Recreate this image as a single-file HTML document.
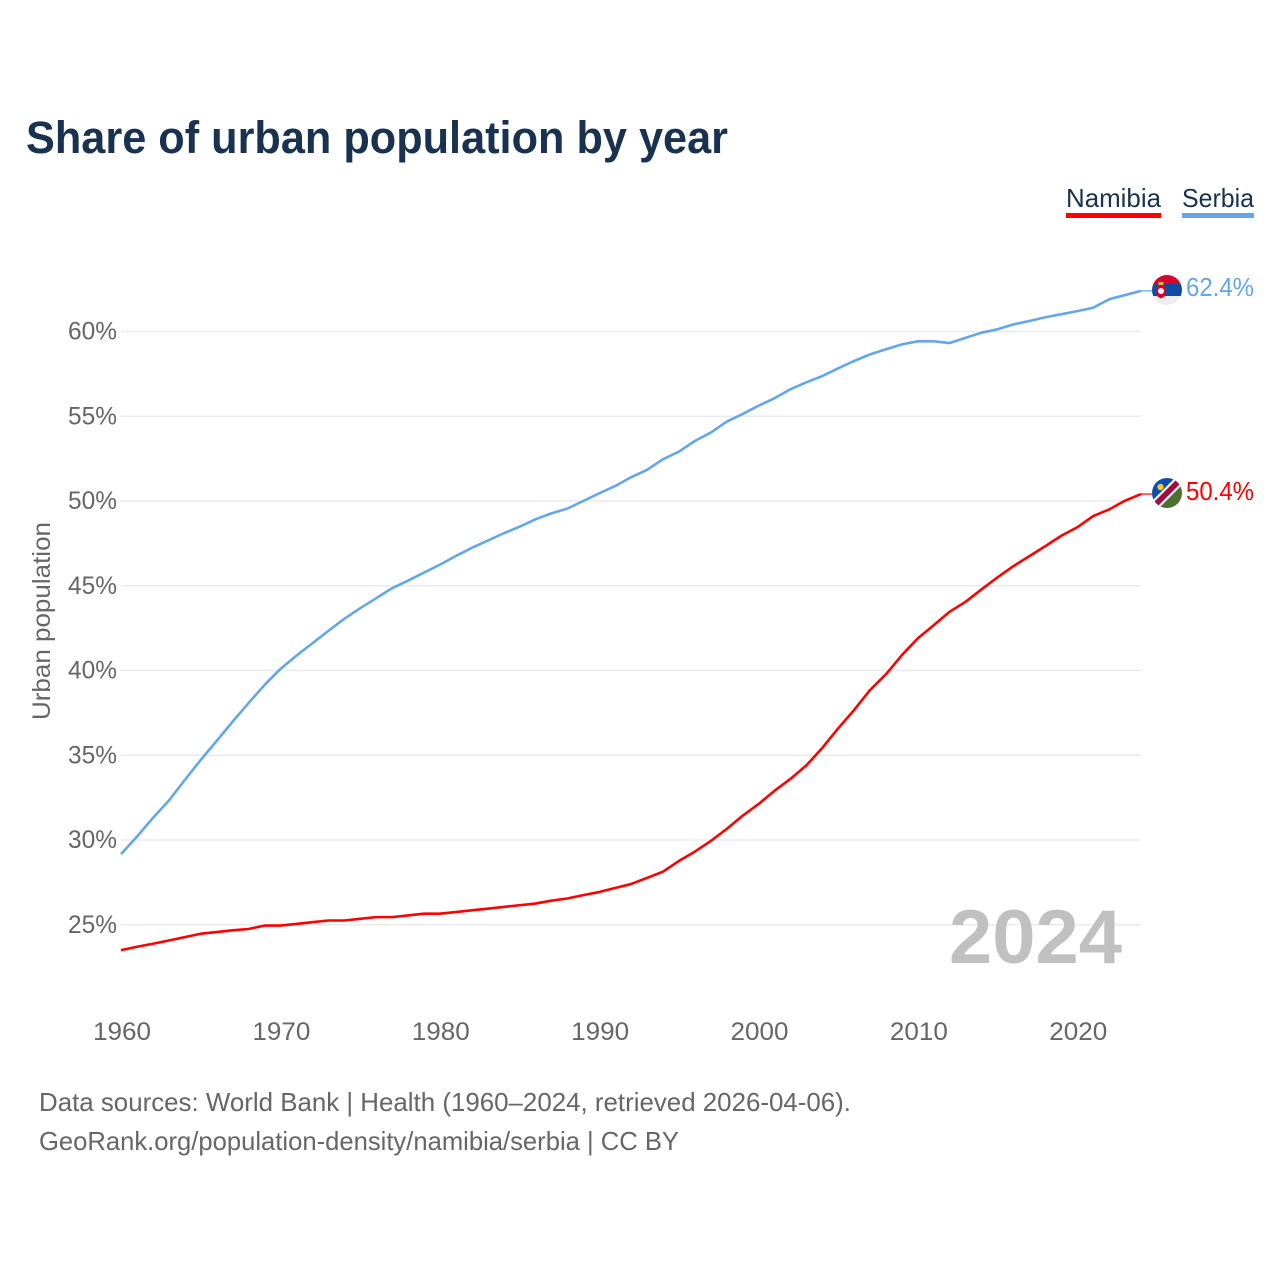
<!DOCTYPE html>
<html lang="en">
<head>
<meta charset="utf-8">
<title>Share of urban population by year</title>
<style>
html,body{margin:0;padding:0;background:#fff}
svg{display:block}
text{font-family:"Liberation Sans",sans-serif}
</style>
</head>
<body>
<svg id="chart" width="1280" height="1280" viewBox="0 0 1280 1280" xmlns="http://www.w3.org/2000/svg">
  <defs>
    <clipPath id="serbia-clip"><circle cx="1167" cy="290" r="15"/></clipPath>
    <clipPath id="namibia-clip"><circle cx="1167" cy="493" r="15"/></clipPath>
  </defs>
  <rect width="1280" height="1280" fill="#fff"/>
  <text x="26" y="153" font-size="45" font-weight="700" fill="#18324f" textLength="702" lengthAdjust="spacingAndGlyphs">Share of urban population by year</text>

  <g>
    <text x="1066" y="207" font-size="26" fill="#18324f" textLength="95" lengthAdjust="spacingAndGlyphs">Namibia</text>
    <rect x="1066" y="213" width="95" height="5" fill="#ff0000"/>
  </g>
  <g>
    <text x="1182" y="207" font-size="26" fill="#18324f" textLength="72" lengthAdjust="spacingAndGlyphs">Serbia</text>
    <rect x="1182" y="213" width="72" height="5" fill="#63a7ea"/>
  </g>

  <g id="grid"></g>
  <g id="y-ticks"></g>
  <g id="x-ticks"></g>
  <text transform="translate(50 621) rotate(-90)" text-anchor="middle" font-size="25" fill="#666" textLength="198" lengthAdjust="spacingAndGlyphs">Urban population</text>
  <text x="1122" y="963" text-anchor="end" font-size="76" font-weight="700" fill="#c0c0c0" textLength="173" lengthAdjust="spacingAndGlyphs">2024</text>
  <g id="series"></g>

  <g clip-path="url(#serbia-clip)">
    <rect x="1152" y="275" width="30" height="10" fill="#d6032f"/>
    <rect x="1152" y="284" width="30" height="12" fill="#0c4da2"/>
    <rect x="1152" y="296" width="30" height="10" fill="#eeeeee"/>
    <path d="M1156.5 286h9v8c0 2.5-2.5 3.500-4.500 4.500-2-1-4.500-2-4.500-4.500z" fill="#d6032f"/>
    <circle cx="1161" cy="291" r="3" fill="#f6f6f6"/>
    <rect x="1158.500" y="282" width="5" height="3" fill="#edb92e"/>
  </g>
  <g clip-path="url(#namibia-clip)">
    <rect x="1152" y="478" width="30" height="30" fill="#fff"/>
    <path d="M1152 478h27l-27 27z" fill="#0a4fb0"/>
    <path d="M1182 483v25h-25z" fill="#4d7030"/>
    <path d="M1175 478l7 7-26 26-7-7z" fill="#fff"/>
    <path d="M1176 480l4 4-25 25-4-4z" fill="#a60a3d"/>
    <circle cx="1160.500" cy="487" r="3.200" fill="#f6c92a"/>
  </g>

  <text x="1186" y="296" font-size="26" fill="#63a7ea" textLength="68" lengthAdjust="spacingAndGlyphs">62.4%</text>
  <text x="1186" y="500" font-size="26" fill="#ff0000" textLength="68" lengthAdjust="spacingAndGlyphs">50.4%</text>

  <text x="39" y="1111" font-size="26" fill="#666" textLength="812" lengthAdjust="spacingAndGlyphs">Data sources: World Bank | Health (1960–2024, retrieved 2026-04-06).</text>
  <text x="39" y="1150" font-size="26" fill="#666" textLength="640" lengthAdjust="spacingAndGlyphs">GeoRank.org/population-density/namibia/serbia | CC BY</text>
</svg>
<script>
const startYear = 1960;
const yTickValues = [25, 30, 35, 40, 45, 50, 55, 60];
const xTickYears = [1960, 1970, 1980, 1990, 2000, 2010, 2020];
const serbiaValues = [29.17,30.2,31.3,32.32,33.54,34.72,35.84,36.98,38.08,39.14,40.09,40.87,41.6,42.33,43.04,43.67,44.26,44.85,45.3,45.77,46.24,46.75,47.23,47.66,48.09,48.48,48.92,49.27,49.55,50.0,50.45,50.88,51.4,51.83,52.46,52.91,53.54,54.03,54.68,55.13,55.62,56.06,56.59,57.0,57.37,57.83,58.26,58.65,58.95,59.24,59.42,59.42,59.32,59.63,59.93,60.13,60.42,60.62,60.84,61.02,61.2,61.4,61.9,62.15,62.4];
const namibiaValues = [23.5,23.7,23.88,24.07,24.27,24.47,24.57,24.67,24.75,24.95,24.95,25.05,25.15,25.25,25.25,25.35,25.45,25.45,25.55,25.65,25.65,25.75,25.85,25.95,26.05,26.15,26.25,26.42,26.55,26.75,26.93,27.17,27.4,27.76,28.13,28.76,29.31,29.94,30.65,31.43,32.12,32.9,33.6,34.4,35.43,36.59,37.67,38.85,39.78,40.91,41.9,42.68,43.47,44.06,44.79,45.5,46.16,46.75,47.34,47.95,48.45,49.11,49.5,50.02,50.41];

const NS = 'http://www.w3.org/2000/svg';
const xScale = function (year) { return 121 + (year - 1960) * (1141 - 121) / 64; };
const yScale = function (value) { return 331.5 + (60 - value) * 16.95; };

function make(tag, attrs, parent, content) {
  const el = document.createElementNS(NS, tag);
  Object.keys(attrs).forEach(function (k) { el.setAttribute(k, attrs[k]); });
  if (content !== undefined) el.textContent = content;
  parent.appendChild(el);
  return el;
}

const gridGroup = document.getElementById('grid');
const yGroup = document.getElementById('y-ticks');
yTickValues.forEach(function (v) {
  const line = make('line', { x1: 121, x2: 1141, y1: yScale(v), y2: yScale(v), stroke: '#ebebeb', 'stroke-width': 1.5 }, gridGroup);
  
  
  const label = make('text', { x: 117, y: yScale(v) + 8, 'text-anchor': 'end', 'font-size': 25, fill: '#666', textLength: 49, lengthAdjust: 'spacingAndGlyphs' }, yGroup, v + '%');
  
  
});

const xGroup = document.getElementById('x-ticks');
xTickYears.forEach(function (year) {
  const label = make('text', { x: xScale(year) + 1, y: 1040, 'text-anchor': 'middle', 'font-size': 25, fill: '#666', textLength: 58, lengthAdjust: 'spacingAndGlyphs' }, xGroup, String(year));
  
  
});

function linePoints(values) {
  return values.map(function (v, i) {
    return xScale(startYear + i).toFixed(2) + ',' + yScale(v).toFixed(2);
  }).join(' ');
}

const seriesGroup = document.getElementById('series');

const namibiaLine = make('polyline', { points: linePoints(namibiaValues), fill: 'none', stroke: '#ff0000', 'stroke-width': 2.6, 'stroke-linejoin': 'round' }, seriesGroup);



const serbiaLine = make('polyline', { points: linePoints(serbiaValues), fill: 'none', stroke: '#63a7ea', 'stroke-width': 2.6, 'stroke-linejoin': 'round' }, seriesGroup);



const namibiaLast = namibiaValues[namibiaValues.length - 1];
const namibiaConnector = make('line', { x1: xScale(2024), x2: 1153, y1: yScale(namibiaLast), y2: yScale(namibiaLast), stroke: '#ff0000', 'stroke-width': 1.2 }, seriesGroup);



const serbiaLast = serbiaValues[serbiaValues.length - 1];
const serbiaConnector = make('line', { x1: xScale(2024), x2: 1153, y1: yScale(serbiaLast), y2: yScale(serbiaLast), stroke: '#63a7ea', 'stroke-width': 1.2 }, seriesGroup);


</script>
</body>
</html>
